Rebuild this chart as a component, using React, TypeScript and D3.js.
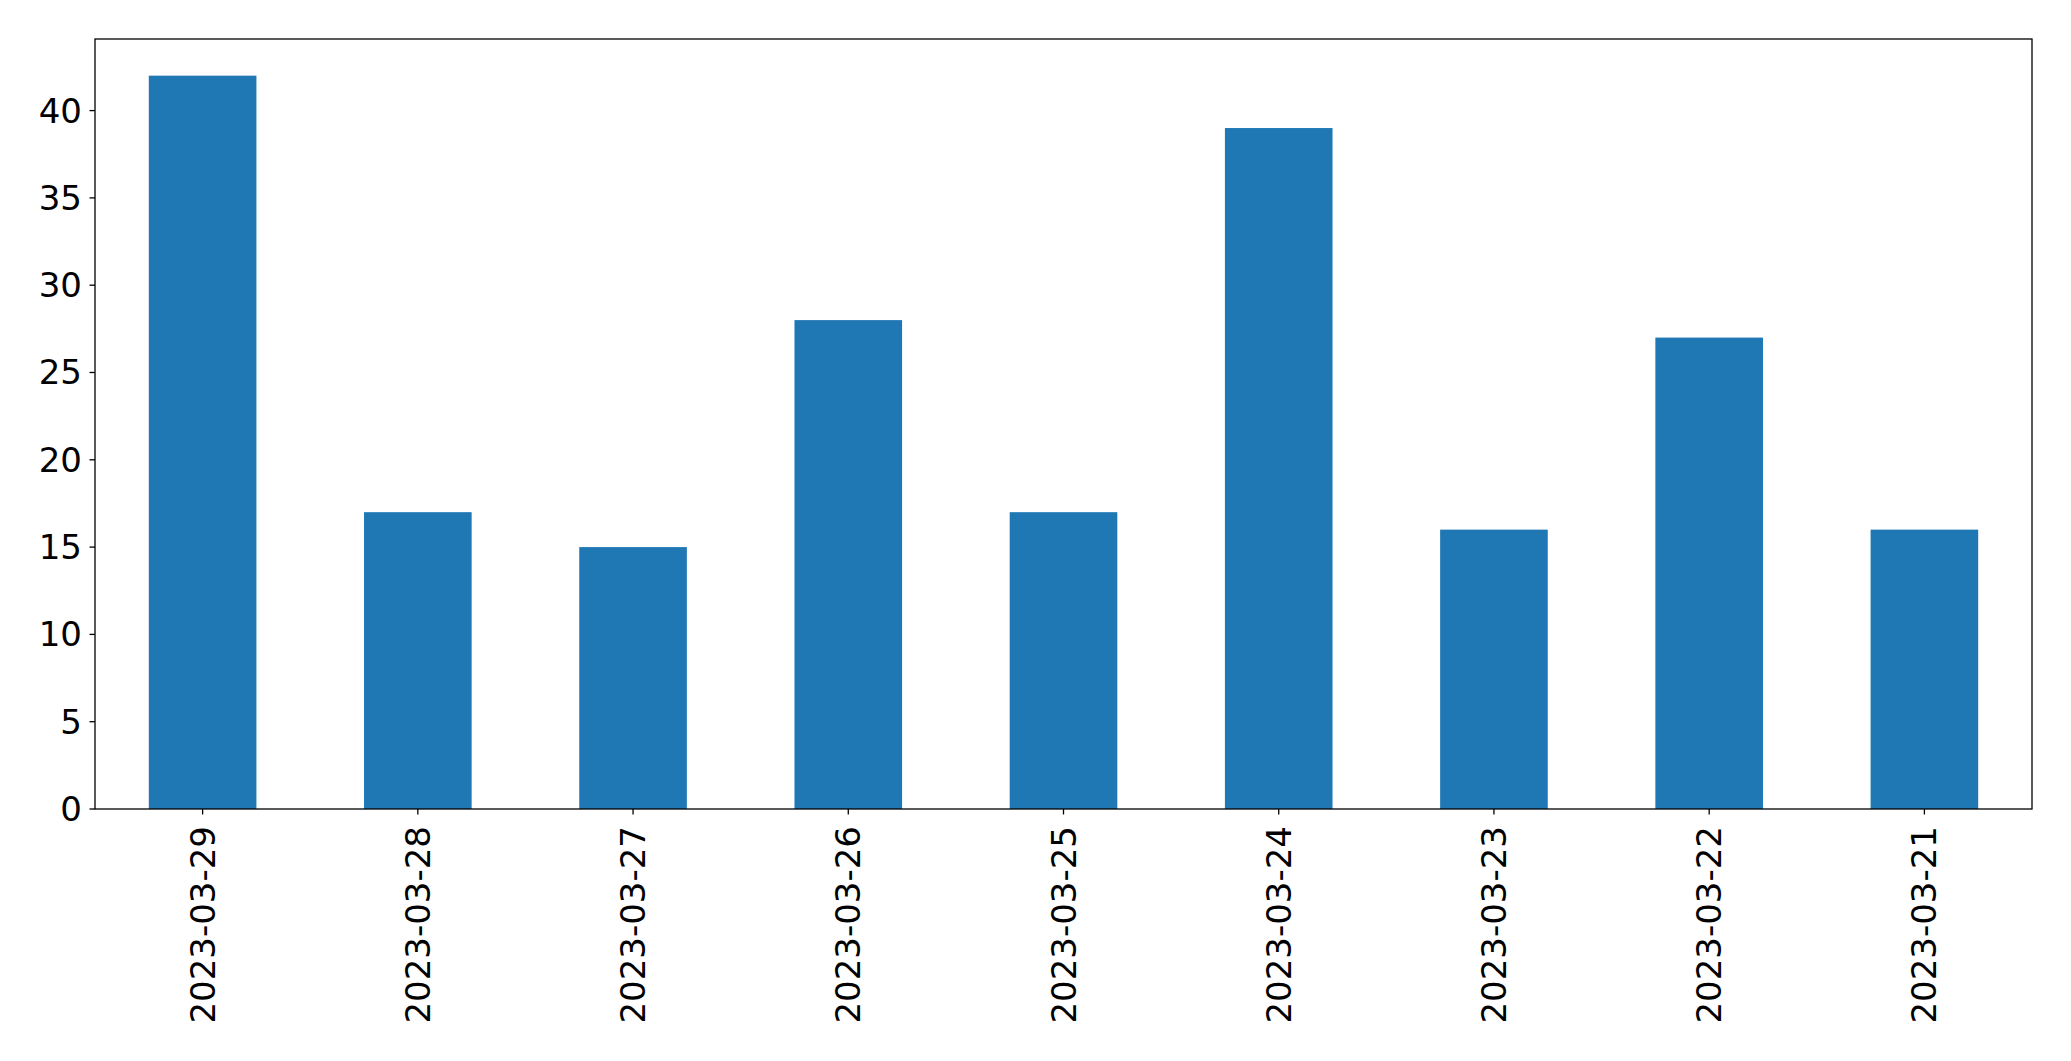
import { useEffect, useRef } from "react";
import * as d3 from "d3";

const dates = [
  "2023-03-29",
  "2023-03-28",
  "2023-03-27",
  "2023-03-26",
  "2023-03-25",
  "2023-03-24",
  "2023-03-23",
  "2023-03-22",
  "2023-03-21",
];
const counts = [42, 17, 15, 28, 17, 39, 16, 27, 16];
const yTicks = [0, 5, 10, 15, 20, 25, 30, 35, 40];

const W = 2071;
const H = 1061;
const FONT = "'DejaVu Sans', sans-serif";

export default function App(): JSX.Element {
  const svgRef = useRef<SVGSVGElement | null>(null);

  useEffect(() => {
    if (!svgRef.current) return;
    const svg = d3.select(svgRef.current);
    svg.selectAll("*").remove();

    const left = 95;
    const right = 2032;
    const top = 39;
    const bottom = 809;

    const x = d3.scaleBand<string>().domain(dates).range([left, right]).paddingInner(0.5).paddingOuter(0.25);
    // pandas-like margin: 5% headroom above the tallest bar
    const yMax = (d3.max(counts) ?? 0) * 1.05;
    const y = d3.scaleLinear().domain([0, yMax]).range([bottom, top]);

    svg.append("rect").attr("width", W).attr("height", H).attr("fill", "#ffffff");

    svg
      .append("g")
      .selectAll("rect")
      .data(counts)
      .join("rect")
      .attr("x", (_, i) => x(dates[i]) ?? 0)
      .attr("width", x.bandwidth())
      .attr("y", (d) => y(d))
      .attr("height", (d) => y(0) - y(d))
      .attr("fill", "#1f77b4");

    // y ticks + labels
    const yg = svg.append("g");
    yg.selectAll("line")
      .data(yTicks)
      .join("line")
      .attr("x1", left - 5.5)
      .attr("x2", left)
      .attr("y1", (d) => y(d))
      .attr("y2", (d) => y(d))
      .attr("stroke", "#000")
      .attr("stroke-width", 1.3);
    yg.selectAll("text")
      .data(yTicks)
      .join("text")
      .attr("x", left - 13)
      .attr("y", (d) => y(d))
      .attr("text-anchor", "end")
      .attr("dominant-baseline", "central")
      .attr("font-family", FONT)
      .attr("font-size", 34)
      .attr("fill", "#000")
      .text((d) => String(d));

    // x ticks + rotated date labels
    const xg = svg.append("g");
    xg.selectAll("line")
      .data(dates)
      .join("line")
      .attr("x1", (d) => (x(d) ?? 0) + x.bandwidth() / 2)
      .attr("x2", (d) => (x(d) ?? 0) + x.bandwidth() / 2)
      .attr("y1", bottom)
      .attr("y2", bottom + 5.5)
      .attr("stroke", "#000")
      .attr("stroke-width", 1.3);
    xg.selectAll("text")
      .data(dates)
      .join("text")
      .attr("transform", (d) => `translate(${(x(d) ?? 0) + x.bandwidth() / 2},${bottom + 17}) rotate(-90)`)
      .attr("text-anchor", "end")
      .attr("dominant-baseline", "central")
      .attr("font-family", FONT)
      .attr("font-size", 34)
      .attr("fill", "#000")
      .text((d) => d);

    // frame
    svg
      .append("rect")
      .attr("x", left)
      .attr("y", top)
      .attr("width", right - left)
      .attr("height", bottom - top)
      .attr("fill", "none")
      .attr("stroke", "#000")
      .attr("stroke-width", 1.3);
  }, []);

  return (
    <div style={{ position: "absolute", left: 0, top: 0, width: W, height: H }}>
      <svg ref={svgRef} width={W} height={H} />
    </div>
  );
}
